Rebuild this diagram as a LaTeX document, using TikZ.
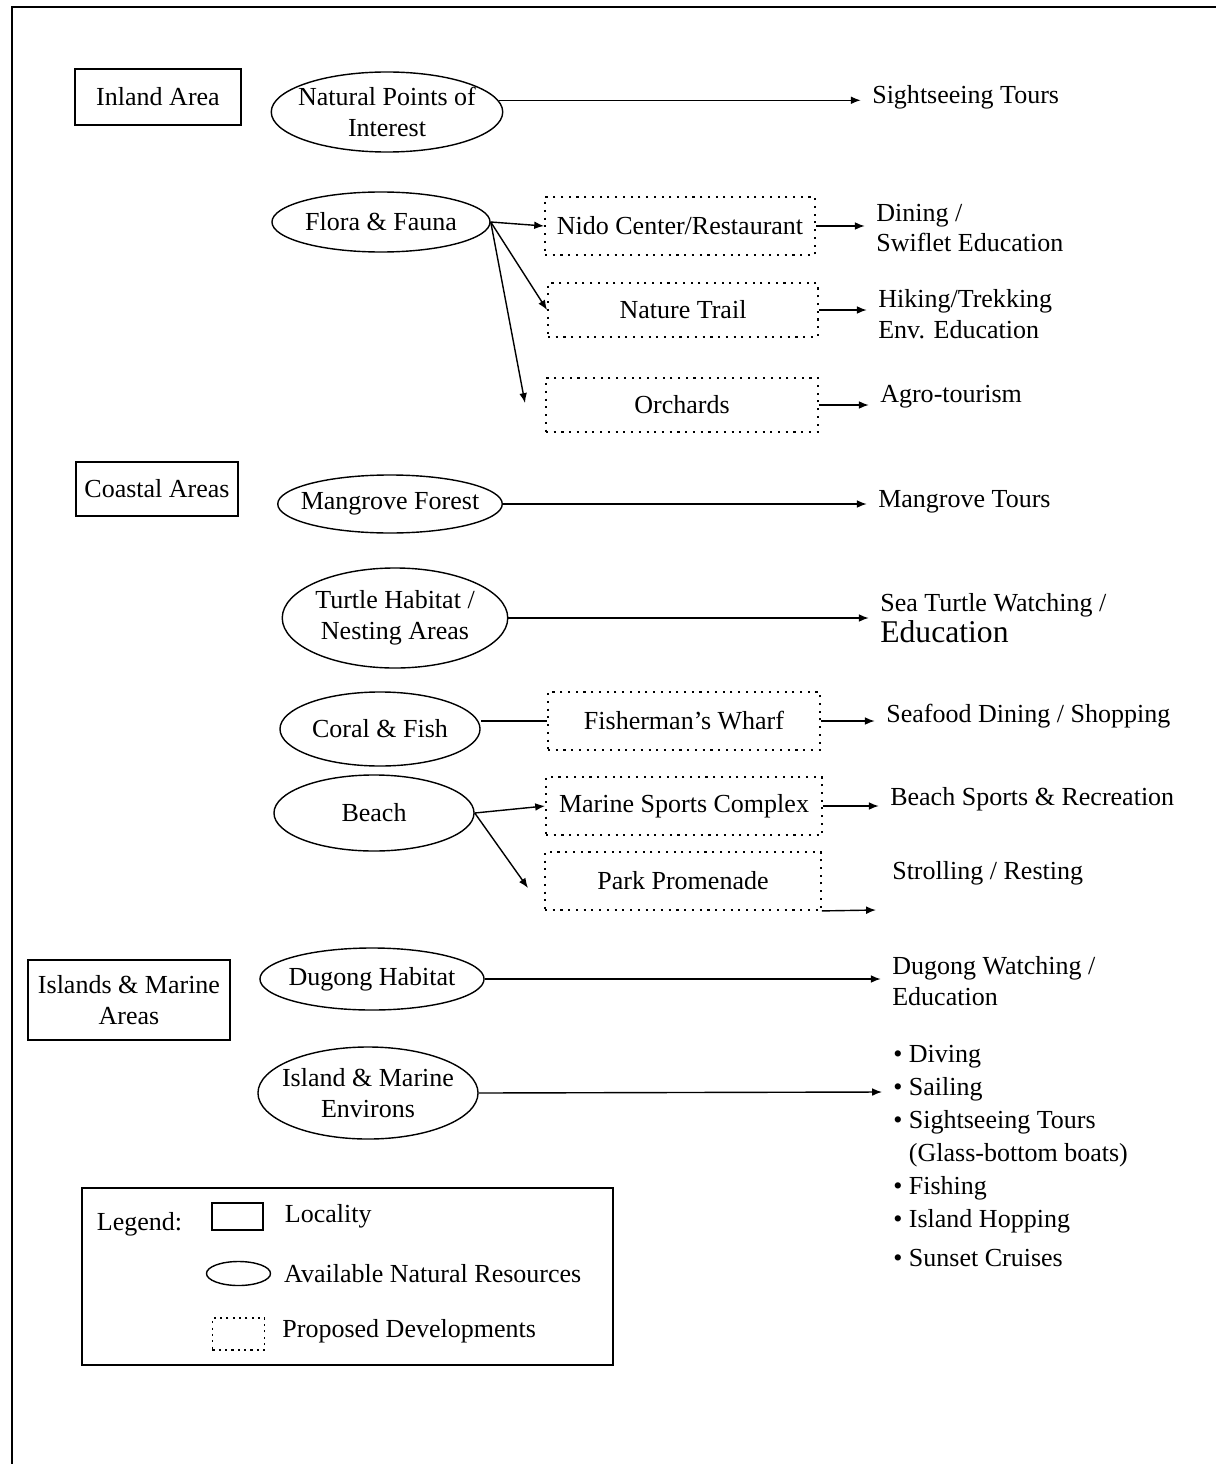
\documentclass[tikz,border=0pt]{standalone}
\usepackage{fontspec}
\setmainfont{Liberation Serif}
\usetikzlibrary{arrows.meta,positioning,shapes.geometric}

\begin{document}
\begin{tikzpicture}[
  x=0.025cm, y=-0.025cm,
  font=\fontsize{18.5}{22}\selectfont, >={Latex[length=7pt,width=5.5pt]},
  place/.style={draw, line width=1.3pt, align=center, inner sep=2pt},
  resource/.style={draw, ellipse, line width=1pt, align=center, inner sep=0pt},
  proposed/.style={draw, dash pattern=on 1.5pt off 4pt, line width=1.3pt, align=center, minimum height=1.45cm, inner sep=2pt},
  activity/.style={anchor=west, align=left, inner sep=0pt},
  link/.style={->, line width=1pt, shorten >=8pt},
]
\useasboundingbox (0,0) rectangle (1216,1464);
% frame (left and top edge only)
\draw[line width=1.8pt] (12,1464) -- (12,7) -- (1216,7);
% (a) localities
\node[place, minimum width=4.15cm, minimum height=1.4cm] (inland) at (158,97) {Inland Area};
\node[place, minimum width=4.05cm, minimum height=1.35cm] (coastal) at (157,489) {Coastal Areas};
\node[place, minimum width=5.05cm, minimum height=2cm] (islands) at (129,1000) {Islands \& Marine\\Areas};
% (b) available natural resources
\node[resource, inner xsep=-5pt, minimum width=5.75cm, minimum height=2cm] (natural) at (387,112) {Natural Points of\\Interest};
\node[resource, minimum width=5.45cm, minimum height=1.5cm] (flora) at (381,222) {Flora \& Fauna};
\node[resource, inner xsep=-7pt, minimum width=5.6cm, minimum height=1.45cm] (mangrove) at (390,504) {Mangrove Forest};
\node[resource, minimum width=5.5cm, minimum height=2.5cm] (turtle) at (395,618) {Turtle Habitat /\\Nesting Areas};
\node[resource, minimum width=5cm, minimum height=1.85cm] (coral) at (380,729) {Coral \& Fish};
\node[resource, minimum width=5cm, minimum height=1.9cm] (beach) at (374,813) {Beach};
\node[resource, inner xsep=-3pt, minimum width=5.6cm, minimum height=1.55cm] (dugong) at (372,979) {Dugong Habitat};
\node[resource, inner xsep=-6pt, minimum width=5.5cm, minimum height=2.3cm] (environs) at (368,1093) {Island \& Marine\\Environs};
% (c) proposed developments
\node[proposed, minimum width=6.75cm] (nido) at (680,226) {Nido Center/Restaurant};
\node[proposed, minimum width=6.75cm, minimum height=1.33cm] (trail) at (683,310) {Nature Trail};
\node[proposed, minimum width=6.8cm, minimum height=1.35cm] (orchards) at (682,405) {Orchards};
\node[proposed, minimum width=6.8cm] (wharf) at (684,721) {Fisherman's Wharf};
\node[proposed, minimum width=6.9cm] (sports) at (684,806) {Marine Sports Complex};
\node[proposed, minimum width=6.9cm] (park) at (683,881) {Park Promenade};
% (d) activities
\node[activity] (sight) at (872,97) {Sightseeing Tours};
\node[activity] (dining) at (876,228) {Dining /\\Swiflet Education};
\node[activity] (hiking) at (878,314) {Hiking/Trekking\\Env. Education};
\node[activity] (agro) at (880,397) {Agro-tourism};
\node[activity] (mtours) at (878,502) {Mangrove Tours};
\node[activity] (seaturtle) at (880,618) {Sea Turtle Watching /\\{\fontsize{22.5}{26}\selectfont Education}};
\node[activity] (seafood) at (886,716) {Seafood Dining / Shopping};
\node[activity] (beachsp) at (890,799) {Beach Sports \& Recreation};
\node[activity] (stroll) at (892,873) {Strolling / Resting};
\node[activity] (dwatch) at (892,981) {Dugong Watching /\\Education};
\node[activity, anchor=north west, font=\fontsize{18.5}{23.5}\selectfont] (marine) at (893,1045)
  {\textbullet\ Diving\\
   \textbullet\ Sailing\\
   \textbullet\ Sightseeing Tours\\
   \hphantom{\textbullet\ }(Glass-bottom boats)\\
   \textbullet\ Fishing\\
   \textbullet\ Island Hopping\\[4pt]
   \textbullet\ Sunset Cruises};
% free ends of arrows
\coordinate (orchin) at (525,403);
\coordinate (parkin) at (528,888);
\coordinate (strollin) at (876,910);
\coordinate (marinein) at (882,1092);
% arrows
\draw[link] (natural.6) -- (natural.6 -| sight.west);
\draw[link, shorten >=0pt] (flora.east) -- (nido.west);
\draw[link, shorten >=0pt] (flora.east) -- (trail.west);
\draw[link, shorten >=0pt] (flora.east) -- (orchin);
\draw[link] (nido.east) -- (nido.east -| dining.west);
\draw[link] (trail.east) -- (trail.east -| hiking.west);
\draw[link] (orchards.east) -- (orchards.east -| agro.west);
\draw[link] (mangrove.east) -- (mangrove.east -| mtours.west);
\draw[link] (turtle.east) -- (turtle.east -| seaturtle.west);
\draw[line width=1pt] (wharf.west) -- (wharf.west -| coral.east);
\draw[link] (wharf.east) -- (wharf.east -| seafood.west);
\draw[link, shorten >=0pt] (beach.east) -- (sports.west);
\draw[link, shorten >=0pt] (beach.east) -- (parkin);
\draw[link] (sports.east) -- (sports.east -| beachsp.west);
\draw[link, shorten >=0pt] (park.south east) -- (strollin);
\draw[link] (dugong.east) -- (dugong.east -| dwatch.west);
\draw[link, shorten >=0pt] (environs.east) -- (marinein);
% (e) legend
\node[draw, line width=1.3pt, minimum width=13.275cm, minimum height=4.425cm] (legend) at (347.5,1276.5) {};
\node[anchor=west] (legtitle) at (92,1224) {Legend:};
\node[draw, line width=1.3pt, minimum width=1.275cm, minimum height=0.675cm, inner sep=0pt] (legplace) at (237.5,1216.5) {};
\node[resource, minimum width=1.6cm, minimum height=0.6cm] (legresource) at (238.5,1273.5) {};
\node[draw, dash pattern=on 1.5pt off 3pt, line width=1.3pt, minimum width=1.3cm, minimum height=0.8cm, inner sep=0pt] (legproposed) at (238.5,1334) {};
\node[right=4mm of legplace] (leglocality) {Locality};
\node[right=2mm of legresource] (legavailable) {Available Natural Resources};
\node[right=3mm of legproposed, yshift=2pt] (legdevel) {Proposed Developments};
\end{tikzpicture}
\end{document}
